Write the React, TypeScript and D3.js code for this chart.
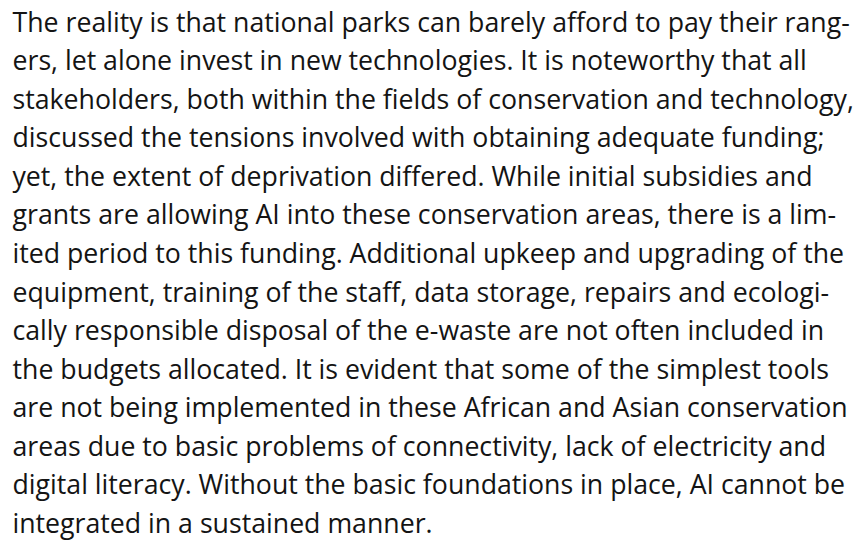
import React from "react";
import * as d3 from "d3";

const lines: string[] = [
  "The reality is that national parks can barely afford to pay their rang-",
  "ers, let alone invest in new technologies. It is noteworthy that all",
  "stakeholders, both within the fields of conservation and technology,",
  "discussed the tensions involved with obtaining adequate funding;",
  "yet, the extent of deprivation differed. While initial subsidies and",
  "grants are allowing AI into these conservation areas, there is a lim-",
  "ited period to this funding. Additional upkeep and upgrading of the",
  "equipment, training of the staff, data storage, repairs and ecologi-",
  "cally responsible disposal of the e-waste are not often included in",
  "the budgets allocated. It is evident that some of the simplest tools",
  "are not being implemented in these African and Asian conservation",
  "areas due to basic problems of connectivity, lack of electricity and",
  "digital literacy. Without the basic foundations in place, AI cannot be",
  "integrated in a sustained manner.",
];

export default function App() {
  const width = 859;
  const height = 543;
  const y = d3
    .scaleLinear()
    .domain([0, lines.length - 1])
    .range([31.5, 533]);

  return (
    <svg
      width={width}
      height={height}
      style={{ position: "absolute", left: 0, top: 0, background: "#fff" }}
    >
      {lines.map((t, i) => (
        <text
          key={i}
          x={12.5}
          y={y(i)}
          fontFamily="'Open Sans', 'Noto Sans', sans-serif"
          fontSize={26.7}
          fill="#141414"
        >
          {t}
        </text>
      ))}
    </svg>
  );
}
